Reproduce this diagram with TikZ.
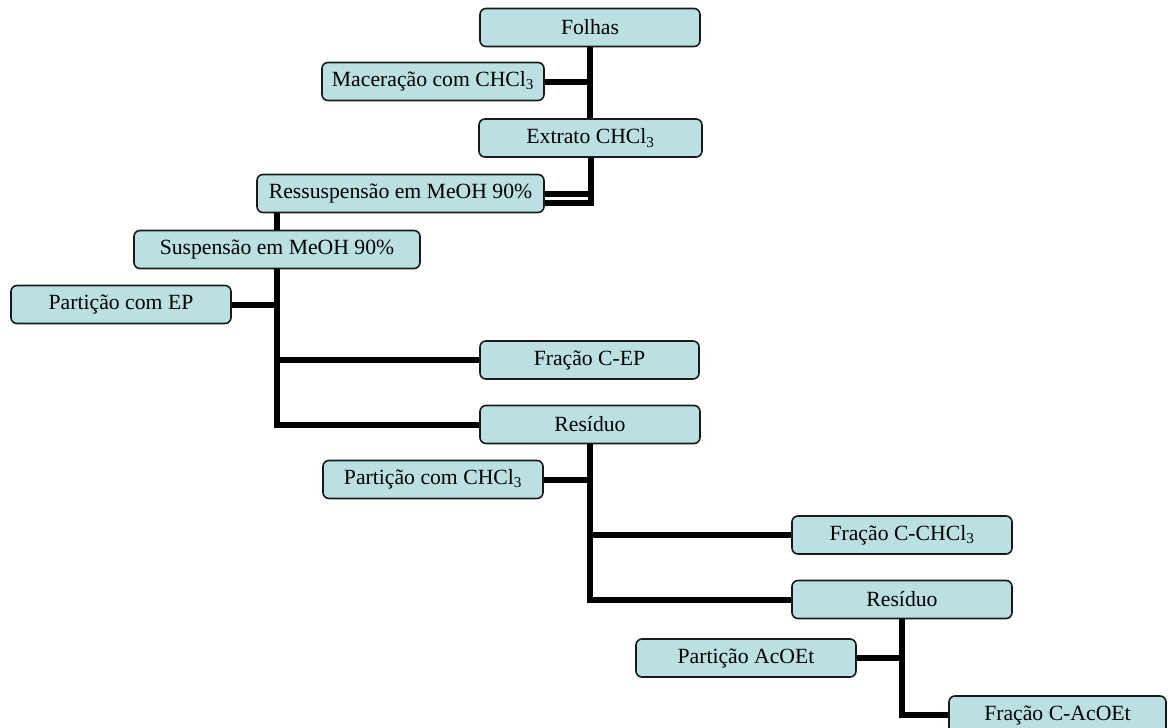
\documentclass[tikz,border=0pt]{standalone}
\usepackage{fontspec}
\setmainfont{Liberation Serif}
\usetikzlibrary{calc}
\definecolor{boxfill}{RGB}{186,224,226}
\definecolor{boxline}{RGB}{25,25,25}
\tikzset{
  stepbox/.style={draw=boxline, line width=1.6pt, rounded corners=6pt, fill=boxfill,
    minimum height=38pt, inner sep=0pt, font=\fontsize{21.7}{26}\selectfont},
  conn/.style={line width=6pt, black}
}
\newcommand{\sub}[1]{\textsubscript{#1}}
\begin{document}
\begin{tikzpicture}[x=1pt,y=-1pt]
\useasboundingbox (0,0) rectangle (1168,728);
% nodes
\node[stepbox, minimum width=220pt] (folhas) at (590,27.5) {Folhas};
\node[stepbox, minimum width=222pt] (macer) at (433,81.5) {Maceração com CHCl\sub{3}};
\node[stepbox, minimum width=223pt] (extrato) at (590.5,138) {Extrato CHCl\sub{3}};
\node[stepbox, minimum width=287pt] (ress) at (400.5,193.5) {Ressuspensão em MeOH 90\%};
\node[stepbox, minimum width=286pt] (susp) at (277,249.5) {Suspensão em MeOH 90\%};
\node[stepbox, minimum width=220pt] (pep) at (121,304.5) {Partição com EP};
\node[stepbox, minimum width=219pt] (fep) at (589.5,360) {Fração C-EP};
\node[stepbox, minimum width=220pt] (res1) at (590,424.5) {Resíduo};
\node[stepbox, minimum width=220pt] (pchcl) at (433,479.5) {Partição com CHCl\sub{3}};
\node[stepbox, minimum width=220pt] (fchcl) at (902,535) {Fração C-CHCl\sub{3}};
\node[stepbox, minimum width=220pt] (res2) at (902,599.5) {Resíduo};
\node[stepbox, minimum width=220pt] (pac) at (746,658) {Partição AcOEt};
\node[stepbox, minimum width=217pt] (fac) at (1057.5,715) {Fração C-AcOEt};
% connectors
\begin{scope}[on background layer/.try]
\end{scope}
\draw[conn] (folhas.south) -- (folhas.south |- extrato.north);
\draw[conn] (macer.east) -- (macer.east -| folhas.south);
\coordinate (rb) at ($(ress.east)+(0,9)$);
\draw[conn] (ress.east) -- (ress.east -| extrato.south);
\draw[conn] (extrato.south) |- (rb);
\draw[conn] (susp.north) -- (susp.north |- ress.south);
\draw[conn] (susp.south) |- (res1.west);
\draw[conn] (pep.east) -- (pep.east -| susp.south);
\draw[conn] (fep.west) -- (fep.west -| susp.south);
\draw[conn] (res1.south) |- (res2.west);
\draw[conn] (pchcl.east) -- (pchcl.east -| res1.south);
\draw[conn] (fchcl.west) -- (fchcl.west -| res1.south);
\draw[conn] (res2.south) |- (fac.west);
\draw[conn] (pac.east) -- (pac.east -| res2.south);
\end{tikzpicture}
\end{document}
